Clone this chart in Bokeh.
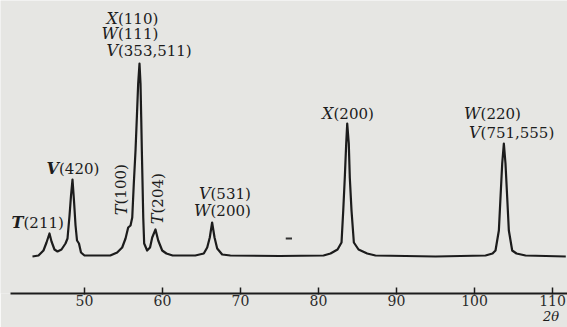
import math
from bokeh.plotting import figure
from bokeh.models import Label, FixedTicker, LinearAxis
from bokeh.embed import file_html
from bokeh.resources import INLINE

# ---------------- data ----------------
two_theta = [
    43.33, 44.1, 44.74, 45.13, 45.51, 45.77, 46.15, 46.54, 47.05, 47.56, 47.82,
    48.08, 48.27, 48.46, 48.65, 48.85, 49.04, 49.29, 49.55, 50.0,
    52.0, 53.3, 54.19, 54.83, 55.26, 55.6, 55.9, 56.12, 56.32, 56.54, 56.71,
    56.88, 57.05, 57.18, 57.27, 57.35, 57.44, 57.53, 57.65, 58.03, 58.4, 58.68,
    59.1, 59.45, 59.96, 60.5, 61.3,
    64.2, 65.29, 65.73, 66.06, 66.36, 66.67, 67.01, 67.65, 68.7,
    75.0, 80.64, 81.54, 82.44, 82.95, 83.17, 83.37, 83.55, 83.68, 83.88, 84.01,
    84.23, 84.53, 85.13, 86.24, 87.3,
    95.0, 101.41, 102.31, 102.69, 103.12, 103.33, 103.55, 103.76, 103.97,
    104.19, 104.4, 104.83, 105.38, 106.54, 111.7,
]
intensity = [
    -1, 0, 5, 13, 22, 14, 6, 4, 6, 12, 17,
    40, 60, 76, 55, 30, 15, 12, 3, 0,
    0, 0, 3, 8, 17, 28, 30, 38, 72, 105, 138,
    172, 192, 172, 138, 105, 72, 38, 12, 5, 8, 18,
    26, 15, 5, 2, 0,
    0, 2, 8, 18, 33, 18, 7, 1, 0,
    -0.5, 0, 2, 6, 13, 45, 78, 112, 132, 112, 78,
    45, 13, 6, 2, 0,
    -1, 0, 2, 5, 25, 58, 92, 112, 92,
    58, 25, 5, 2, 0, -1,
]

peak_letters = ["T", "V", "X", "W", "V", "T", "T", "V", "W", "X", "W", "V"]
peak_indices = ["(211)", "(420)", "(110)", "(111)", "(353,511)", "(100)",
                "(204)", "(531)", "(200)", "(200)", "(220)", "(751,555)"]

tick_values = [50, 60, 70, 80, 90, 100, 110]
tick_labels = ["50", "60", "70", "80", "90", "100", "110"]
axis_title = "2θ"

stray_mark_x = [75.8, 76.6]
stray_mark_y = [17, 17]

# ---------------- layout of annotations ----------------
label_x = [42.18, 46.73, 54.29, 54.29, 54.29, 54.74, 59.36, 66.15, 66.15, 81.92, 100.77, 100.77]
label_y = [33, 87, 237, 222, 205, 51, 42, 62, 45, 142, 142, 123]
label_rot = [False, False, False, False, False, True, True, False, False, False, False, False]
label_bold = [True, True] + [False] * 10
title_pos = 109.8

PAPER = "#e6e6e3"
INK = "#1c1c1c"
SERIF = "DejaVu Serif"

p = figure(width=567, height=327, x_range=(39.23, 111.92), y_range=(-38, 255),
           output_backend="svg", toolbar_location=None, y_axis_location=None,
           min_border_left=0, min_border_right=0, min_border_top=0, min_border_bottom=34)
p.background_fill_color = PAPER
p.border_fill_color = PAPER
p.outline_line_color = None
p.grid.visible = False

ax = p.xaxis[0]
ax.ticker = FixedTicker(ticks=tick_values)
ax.major_label_overrides = {v: s for v, s in zip(tick_values, tick_labels)}
ax.bounds = (40.5, 111.92)
ax.axis_line_width = 2
ax.axis_line_color = INK
ax.major_tick_line_color = INK
ax.major_tick_line_width = 1.5
ax.major_tick_in = 6
ax.major_tick_out = 1
ax.minor_tick_line_color = None
ax.major_label_standoff = 0
ax.major_label_text_font = SERIF
ax.major_label_text_font_size = "14px"
ax.major_label_text_color = "#2a2a2a"

ax2 = LinearAxis(ticker=FixedTicker(ticks=[title_pos]),
                 major_label_overrides={title_pos: axis_title},
                 axis_line_color=None, major_tick_line_color=None, minor_tick_line_color=None,
                 major_tick_in=0, major_tick_out=0, major_label_standoff=0,
                 major_label_text_font=SERIF, major_label_text_font_size="13px",
                 major_label_text_font_style="italic", major_label_text_color=INK)
p.add_layout(ax2, "below")

p.line(two_theta, intensity, line_width=2.2, line_color=INK, line_join="round")
p.line(stray_mark_x, stray_mark_y, line_width=2, line_color="#333333")

for let, idx, x, y, rot, bold in zip(peak_letters, peak_indices, label_x, label_y, label_rot, label_bold):
    ang = math.pi / 2 if rot else 0
    p.add_layout(Label(x=x, y=y, text=let, angle=ang, text_align="right", text_baseline="middle",
                       text_font=SERIF, text_font_size="16px",
                       text_font_style="bold italic" if bold else "italic", text_color=INK))
    p.add_layout(Label(x=x, y=y, text=idx, angle=ang, text_align="left", text_baseline="middle",
                       text_font=SERIF, text_font_size="15px", text_color=INK))

html = file_html(p, INLINE)
html = html.replace("<body>", '<body style="background:%s">' % PAPER, 1)
open("out.html", "w").write(html)
